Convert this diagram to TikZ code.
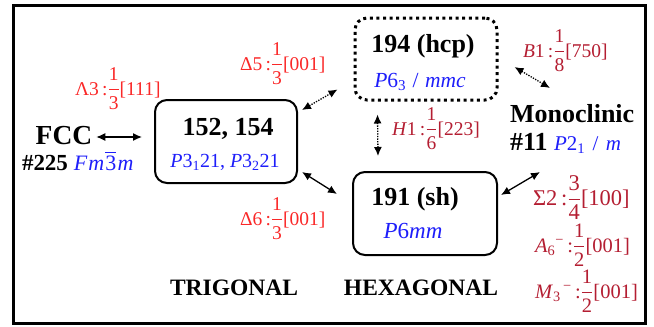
\documentclass[tikz,border=0pt]{standalone}
\usepackage{amsmath}
\usepackage{fontspec}
\setmainfont{Liberation Serif}
\usetikzlibrary{arrows.meta}
\definecolor{lred}{RGB}{250,40,40}
\definecolor{dred}{RGB}{180,30,50}
\definecolor{sblue}{RGB}{30,30,250}
\newcommand{\fr}[2]{$\dfrac{\mbox{#1}}{\mbox{#2}}$}
\newcommand{\fsz}[1]{\fontsize{#1}{#1}\selectfont}
\begin{document}
\begin{tikzpicture}[x=1pt,y=-1pt,
  txt/.style={inner sep=0pt,outer sep=0pt},
  big/.style={txt,font=\fsz{26}\bfseries},
  mid/.style={txt,font=\fsz{23.5}\bfseries},
  sg/.style={txt,text=sblue,font=\fsz{20}},
  rl/.style={txt,text=lred,font=\fsz{19.5}},
  dl/.style={txt,text=dred,font=\fsz{19.5}},
  sbox/.style={draw,line width=2pt,rounded corners=12pt,minimum width=142pt,minimum height=83pt,inner sep=0pt},
  dbox/.style={draw,line width=3pt,dash pattern=on 3pt off 3.6pt,rounded corners=12pt,minimum width=142pt,minimum height=82pt,inner sep=0pt},
  dbl/.style={{Latex[length=9pt,width=8pt]}-{Latex[length=9pt,width=8pt]},line width=1.3pt},
  dotdbl/.style={dbl,dash pattern=on 1.3pt off 1.3pt}
]
\useasboundingbox (0,0) rectangle (654,327);
\draw[line width=3pt] (13,5) rectangle (645,323);

% boxes
\node[sbox] (A) at (226,141.5) {};
\node[dbox] (B) at (426,59) {};
\node[sbox,minimum width=144pt] (C) at (425,213.5) {};

% box texts
\node[big,anchor=base] (At) at (228,135) {152, 154};
\node[sg,anchor=base] (As) at (225,167) {\textit{P}3\textsubscript{1}21, \textit{P}3\textsubscript{2}21};
\node[big,anchor=base] (Bt) at (423,52) {194 (hcp)};
\node[sg,anchor=base,font=\fsz{21.5}] (Bs) at (420,87) {\textit{P}6\textsubscript{3}\hspace{0.3em}/\hspace{0.3em}\textit{mmc}};
\node[big,anchor=base] (Ct) at (415,205) {191 (sh)};
\node[sg,anchor=base,font=\fsz{23}] (Cs) at (413,238) {\textit{P}6\textit{mm}};

% outer texts
\node[big,anchor=base,font=\fsz{27.5}\bfseries] (fcc) at (64,144) {FCC};
\node[txt,anchor=base west] (n225) at (22,170) {\fsz{23}\bfseries \#225 {\mdseries\color{sblue}\fsz{22}\textit{F}\hspace{0.05em}\textit{m}\hspace{0.05em}$\overline{\mbox{3}}$\hspace{0.05em}\textit{m}}};
\node[big,anchor=base west] (mono) at (510,122) {Monoclinic};
\node[big,anchor=base west] (m11) at (510,150) {\#11 {\mdseries\color{sblue}\fsz{21}\textit{P}2\textsubscript{1}\hspace{0.35em}/\hspace{0.35em}\textit{m}}};
\node[mid,anchor=base] (trig) at (234,295) {TRIGONAL};
\node[mid,anchor=base] (hex) at (421,295) {HEXAGONAL};

% labels
\node[rl,anchor=base west] (L3) at (75,95) {Λ3\,:\fr{1}{3}[111]};
\node[rl,anchor=base west] (D5) at (240,70) {Δ5\,:\fr{1}{3}[001]};
\node[rl,anchor=base west] (D6) at (240,225) {Δ6\,:\fr{1}{3}[001]};
\node[dl,anchor=base west] (B1) at (523,57) {\textit{B}1\,:\fr{1}{8}[750]};
\node[dl,anchor=base west] (H1) at (392,135) {\textit{H}1\,:\fr{1}{6}[223]};
\node[dl,anchor=base west,font=\fsz{22.5}] (S2) at (533,205) {Σ2\,:\fr{3}{4}[100]};
\node[dl,anchor=base west,font=\fsz{20.5}] (A6) at (535,252) {\textit{A}\textsubscript{6}\textsuperscript{−}\,:\fr{1}{2}[001]};
\node[dl,anchor=base west,font=\fsz{20.5}] (M3) at (535,298) {\textit{M}\textsubscript{3}\textsuperscript{\,−}\,:\fr{1}{2}[001]};

% connectors
\draw[dbl] ([shift={(4pt,7pt)}]fcc.base east) -- ([shift={(-12pt,4.5pt)}]A.west);
\draw[dotdbl] ([shift={(4pt,-11pt)}]A.north east) -- ([shift={(-16pt,12pt)}]B.south west);
\draw[dbl] ([shift={(4pt,12pt)}]A.south east) -- ([shift={(-15pt,-23pt)}]C.north west);
\draw[dotdbl] ([shift={(24pt,-13pt)}]B.south west) -- ([shift={(26pt,15pt)}]C.north west);
\draw[dotdbl] ([shift={(16pt,-8pt)}]B.east) -- ([shift={(40pt,34pt)}]mono.base west);
\draw[dbl] ([shift={(3pt,18.5pt)}]C.east) -- ([shift={(30pt,-22pt)}]m11.base west);
\end{tikzpicture}
\end{document}
